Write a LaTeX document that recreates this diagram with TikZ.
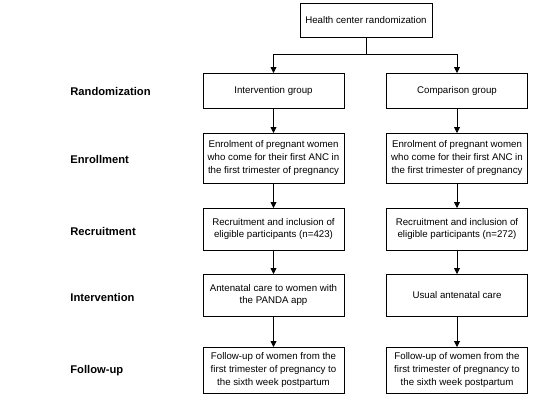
\documentclass[tikz,border=0pt]{standalone}
\usepackage{fontspec}
\setmainfont{Liberation Sans}
\usetikzlibrary{arrows.meta}
\begin{document}
\begin{tikzpicture}[x=1pt, y=-1pt, font=\fontsize{9.7}{12.6}\selectfont, line width=0.8pt,
	box/.style={draw, fill=white, minimum width=141pt, align=center, inner sep=1pt, outer sep=0pt},
	stage/.style={font=\fontsize{11.2}{13}\selectfont\bfseries, anchor=west, inner sep=0pt},
	arr/.style={-{Triangle[width=6pt, length=6pt]}}]
	\useasboundingbox (0, 0) rectangle (551, 410);
	
	% Randomisierung
	\node[box, minimum width=132pt, minimum height=34pt] (hc) at (366, 20) {Health center randomization};
	\node[stage] (lrand) at (70, 91) {Randomization};
	\node[box, minimum height=35pt] (igrp) at (273.5, 90.5) {Intervention group};
	\node[box, minimum height=35pt] (cgrp) at (457, 90.5) {Comparison group};
	\coordinate (split) at (366, 54);
	\draw (hc) -- (split);
	\draw[arr] (split) -| (igrp);
	\draw[arr] (split) -| (cgrp);
	
	% Aufnahme
	\node[stage] (lenrol) at (70, 159) {Enrollment};
	\node[box, minimum height=50pt] (ienrol) at (273.5, 158) {Enrolment of pregnant women\\who come for their first ANC in\\the first trimester of pregnancy};
	\node[box, minimum height=50pt] (cenrol) at (457, 158) {Enrolment of pregnant women\\who come for their first ANC in\\the first trimester of pregnancy};
	\draw[arr] (igrp) -- (ienrol);
	\draw[arr] (cgrp) -- (cenrol);
	
	% Rekrutierung
	\node[stage] (lrecr) at (70, 231) {Recruitment};
	\node[box, minimum height=42pt] (irecr) at (273.5, 229) {Recruitment and inclusion of\\eligible participants (n=423)};
	\node[box, minimum height=42pt] (crecr) at (457, 229) {Recruitment and inclusion of\\eligible participants (n=272)};
	\draw[arr] (ienrol) -- (irecr);
	\draw[arr] (cenrol) -- (crecr);
	
	% Intervention
	\node[stage] (linterv) at (70, 297) {Intervention};
	\node[box, minimum height=42pt] (iinterv) at (273.5, 295) {Antenatal care to women with\\the PANDA app};
	\node[box, minimum height=42pt] (cinterv) at (457, 295) {Usual antenatal care};
	\draw[arr] (irecr) -- (iinterv);
	\draw[arr] (crecr) -- (cinterv);
	
	% Nachbeobachtung
	\node[stage] (lfollow) at (70, 371) {Follow-up};
	\node[box, minimum height=46pt] (ifollow) at (273.5, 370) {Follow-up of women from the\\first trimester of pregnancy to\\the sixth week postpartum};
	\node[box, minimum height=46pt] (cfollow) at (457, 370) {Follow-up of women from the\\first trimester of pregnancy to\\the sixth week postpartum};
	\draw[arr] (iinterv) -- (ifollow);
	\draw[arr] (cinterv) -- (cfollow);
	
\end{tikzpicture}
\end{document}
